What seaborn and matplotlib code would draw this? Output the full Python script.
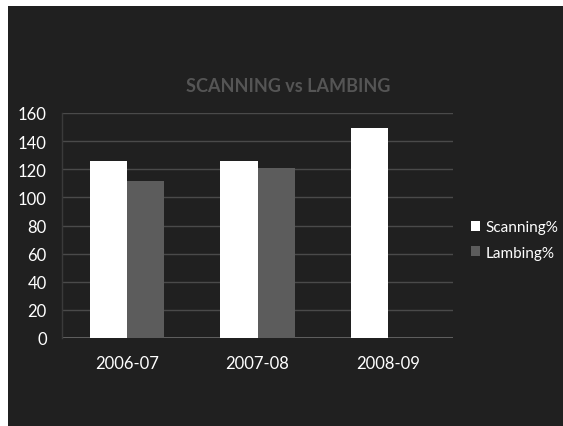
import matplotlib
matplotlib.use("Agg")
import matplotlib.pyplot as plt
from matplotlib.patches import Rectangle
import numpy as np
import pandas as pd
import seaborn as sns

# Flock figures per season (percent)
seasons = ["2006-07", "2007-08", "2008-09"]
scanning = [126, 126, 149]
lambing = [112, 121, np.nan]
series_names = ["Scanning%", "Lambing%"]
y_ticks = [0, 20, 40, 60, 80, 100, 120, 140, 160]

df = pd.DataFrame({
    "season": seasons * 2,
    "value": scanning + lambing,
    "series": [series_names[0]] * 3 + [series_names[1]] * 3,
})

sns.set_theme(style="dark")
plt.rcParams["font.family"] = ["Lato", "DejaVu Sans"]

bg = "#202020"
fig = plt.figure(figsize=(5.63, 4.27), dpi=100, facecolor="white")
# dark panel with thin white margin at top and left
fig.patches.append(Rectangle((8 / 563, 0), 1, 1 - 7 / 427, transform=fig.transFigure,
                             facecolor=bg, edgecolor="none", zorder=-10))

ax = fig.add_axes([62 / 563, 88 / 427, 391 / 563, 225 / 427])
ax.set_facecolor(bg)
ax.set_zorder(1)

sns.barplot(data=df, x="season", y="value", hue="series", order=seasons,
            hue_order=series_names, palette=["#ffffff", "#5c5c5c"],
            width=0.57, saturation=1, edgecolor="none", linewidth=0,
            ax=ax, zorder=3)

ax.set_ylim(0, 160)
ax.set_xlim(-0.5, 2.5)
ax.set_yticks(y_ticks)
ax.set_xlabel("")
ax.set_ylabel("")
ax.grid(axis="y", color="#4a4a4a", linewidth=1.0, zorder=0)
ax.grid(axis="x", visible=False)
for s in ax.spines.values():
    s.set_visible(False)
ax.spines["left"].set_visible(True)
ax.spines["left"].set_color("#3a3a3a")
ax.spines["left"].set_linewidth(1.0)
ax.axhline(0, color="#6a6a6a", linewidth=1.2, zorder=2)

ax.tick_params(axis="y", length=0, pad=11, labelsize=12, labelcolor="white")
ax.tick_params(axis="x", length=0, pad=12, labelsize=12, labelcolor="white")

fig.text(288 / 563, 1 - 86 / 427, "SCANNING vs LAMBING", ha="center", va="center",
         fontsize=13, fontweight="bold", color="#555555")

leg = ax.legend(loc="center left", bbox_to_anchor=(463 / 563, 1 - 241 / 427),
                bbox_transform=fig.transFigure, frameon=False, fontsize=11,
                labelcolor="white", handlelength=0.6, handleheight=0.6,
                handletextpad=0.35, labelspacing=0.75, borderpad=0)

fig.savefig("out.png", dpi=100, facecolor=fig.get_facecolor())
